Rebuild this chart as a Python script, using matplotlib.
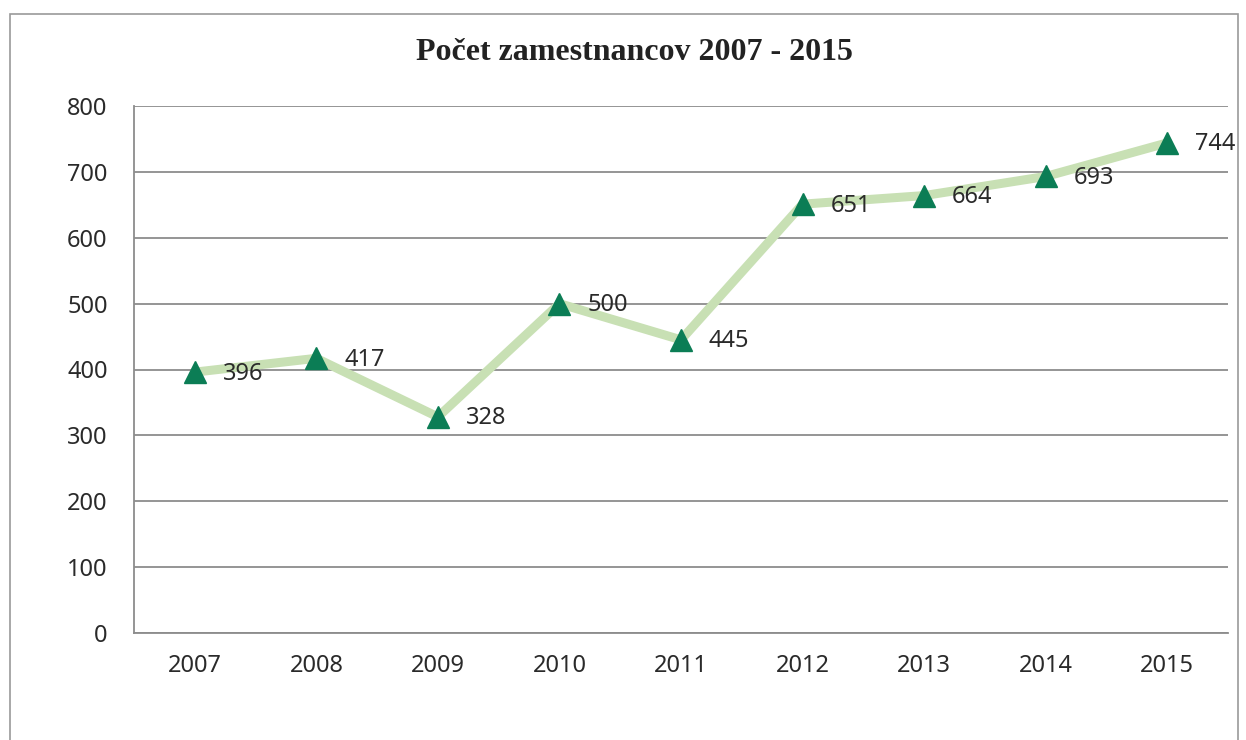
import matplotlib.pyplot as plt
from matplotlib.patches import Rectangle

years = ['2007', '2008', '2009', '2010', '2011', '2012', '2013', '2014', '2015']
employees = [396, 417, 328, 500, 445, 651, 664, 693, 744]
y_ticks = [0, 100, 200, 300, 400, 500, 600, 700, 800]

fig = plt.figure(figsize=(12.46, 7.40), dpi=100)
ax = fig.add_axes([134 / 1246, 1 - 633 / 740, (1228 - 134) / 1246, (633 - 106) / 740])

# outer chart frame
fig.patches.append(Rectangle((10 / 1246, -0.05), (1238 - 10) / 1246, 1.05 - 14 / 740,
                             transform=fig.transFigure, fill=False,
                             edgecolor='#9a9a9a', linewidth=1.2))

x = list(range(len(years)))
ax.plot(x, employees, color='#c8e0b4', linewidth=6.5, solid_capstyle='round', zorder=3)
ax.plot(x, employees, linestyle='none', marker='^', markersize=15.5,
        color='#0b7d55', markeredgecolor='#0b7d55', zorder=4)

for xi, v in zip(x, employees):
    ax.annotate(str(v), (xi, v), xytext=(20, -1), textcoords='offset points',
                ha='left', va='center', fontsize=17, family='Noto Sans',
                color='#2a2a2a', zorder=5)

ax.set_xlim(-0.5, len(years) - 0.5)
ax.set_ylim(0, 800)
ax.set_yticks(y_ticks)
ax.set_xticks(x)
ax.set_xticklabels(years)
ax.grid(axis='y', color='#8c8c8c', linewidth=1.3)
ax.set_axisbelow(True)
for s in ['top', 'right']:
    ax.spines[s].set_visible(False)
ax.spines['left'].set_color('#8c8c8c')
ax.spines['bottom'].set_color('#8c8c8c')
ax.spines['left'].set_linewidth(1.3)
ax.spines['bottom'].set_linewidth(1.3)
ax.tick_params(axis='both', length=0, labelsize=17, labelcolor='#2a2a2a')
ax.tick_params(axis='y', pad=19)
ax.tick_params(axis='x', pad=15)
for lbl in ax.get_xticklabels() + ax.get_yticklabels():
    lbl.set_family('Noto Sans')

fig.text(0.509, 1 - 52 / 740, 'Počet zamestnancov 2007 - 2015', ha='center', va='center',
         fontsize=23, fontweight='bold', family='Liberation Serif', color='#222222')

fig.savefig('out.png', dpi=100)
